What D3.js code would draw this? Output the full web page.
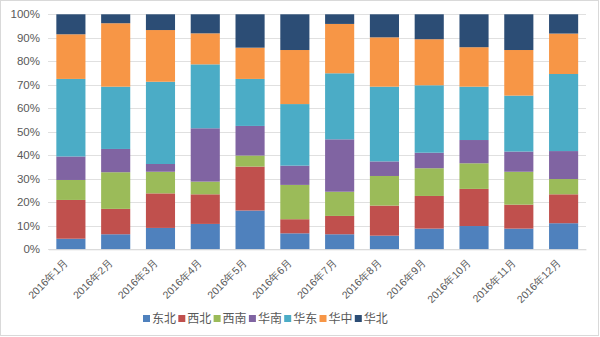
<!DOCTYPE html>
<html><head><meta charset="utf-8">
<script src="https://cdn.jsdelivr.net/npm/d3@7"></script>
<style>body{margin:0;background:#fff;}svg{display:block;font-family:"Noto Sans CJK SC","Microsoft YaHei",sans-serif;}</style>
</head><body><svg id="c" width="600" height="337"></svg>
<script>
const months = ["2016年1月","2016年2月","2016年3月","2016年4月","2016年5月","2016年6月","2016年7月","2016年8月","2016年9月","2016年10月","2016年11月","2016年12月"];
const regions = ["东北","西北","西南","华南","华东","华中","华北"];
const dongbei = [4.5,6.4,9.1,10.8,16.5,6.8,6.4,5.8,8.8,9.9,8.8,11.1];
const xibei   = [16.5,10.8,14.7,12.6,18.7,6.0,7.8,12.8,13.9,15.8,10.2,12.3];
const xinan   = [8.5,15.6,9.2,5.4,4.7,14.6,10.3,12.6,11.8,10.9,14.0,6.5];
const huanan  = [10.0,9.9,3.3,22.7,12.6,8.2,22.3,6.2,6.6,9.9,8.6,11.9];
const huadong = [33.0,26.5,35.0,27.2,20.0,26.2,28.1,31.8,28.7,22.7,23.8,32.8];
const huazhong= [19.0,27.0,22.0,13.2,13.3,23.0,21.0,21.0,19.6,16.8,19.4,17.2];
const huabei  = [8.5,3.8,6.7,8.1,14.2,15.2,4.1,9.8,10.6,14.0,15.2,8.2];
const yTicks = [0,0.1,0.2,0.3,0.4,0.5,0.6,0.7,0.8,0.9,1.0];
const colors = ["#4F81BD","#C0504D","#9BBB59","#8064A2","#4BACC6","#F79646","#2C4D75"];

const seriesArr = [dongbei,xibei,xinan,huanan,huadong,huazhong,huabei];
const rows = months.map((m,i)=>{
  const r = {month:m};
  regions.forEach((g,j)=>r[g]=seriesArr[j][i]);
  return r;
});
const stack = d3.stack().keys(regions).offset(d3.stackOffsetExpand);
const layers = stack(rows);

const svg = d3.select("#c");
svg.append("rect").attr("x",0.5).attr("y",0.5).attr("width",598).attr("height",335)
  .attr("fill","#fff").attr("stroke","#d9d9d9");

const x = d3.scaleBand().domain(months).range([48.5,586]).paddingInner(0.35).paddingOuter(0.175);
const y = d3.scaleLinear().domain([0,1]).range([249.3,14.3]);

const grid = svg.append("g");
grid.selectAll("line").data(yTicks).join("line")
  .attr("x1",48).attr("x2",586)
  .attr("y1",d=>Math.round(y(d))+0.5).attr("y2",d=>Math.round(y(d))+0.5)
  .attr("stroke","#e0e0e0").attr("stroke-width",1);

const yAxis = svg.append("g").attr("transform","translate(40,0)")
  .call(d3.axisLeft(y).tickValues(yTicks).tickFormat(d3.format(".0%")).tickSize(0).tickPadding(0));
yAxis.select(".domain").remove();
yAxis.selectAll("text").style("fill","#595959").style("font-size","11.5px").style("font-family","'Liberation Sans',Arial,sans-serif");

const g = svg.append("g");
layers.forEach((layer,j)=>{
  g.append("g").attr("fill",colors[j]).selectAll("rect").data(layer).join("rect")
    .attr("x",d=>x(d.data.month))
    .attr("width",x.bandwidth())
    .attr("y",d=>y(d[1]))
    .attr("height",d=>y(d[0])-y(d[1]));
});

const xAxis = svg.append("g").attr("transform","translate(0,249.3)")
  .call(d3.axisBottom(x).tickSize(0).tickPadding(0));
xAxis.select(".domain").attr("stroke","#d9d9d9");
xAxis.selectAll("text")
  .style("fill","#595959").style("font-size","10.5px")
  .attr("text-anchor","end")
  .attr("dy",0)
  .attr("transform","translate(-2,14) rotate(-45)");

const legend = svg.append("g").attr("transform","translate(143,319)");
const items = legend.selectAll("g").data(regions).join("g")
  .attr("transform",(d,i)=>`translate(${i*35.3},0)`);
items.append("rect").attr("x",0).attr("y",-4).attr("width",7).attr("height",7).attr("fill",(d,i)=>colors[i]);
items.append("text").attr("x",9).attr("y",0).attr("dy","0.35em")
  .style("fill","#595959").style("font-size","12px").text(d=>d);
</script></body></html>
